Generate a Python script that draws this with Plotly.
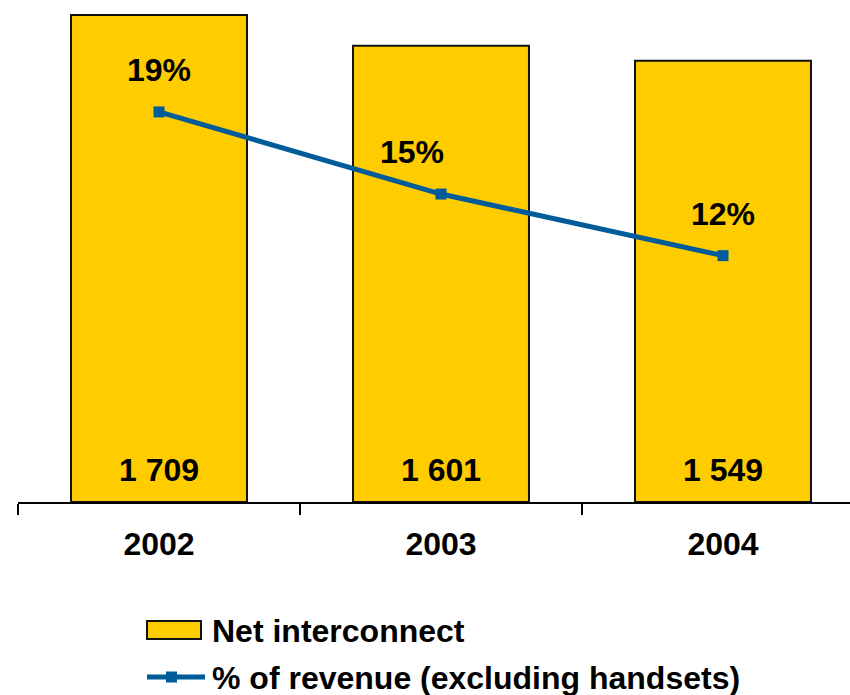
import plotly.graph_objects as go

# Data
years = ["2002", "2003", "2004"]
net_interconnect = [1709, 1601, 1549]
pct_revenue = [19, 15, 12]
bar_labels = ["1 709", "1 601", "1 549"]
pct_labels = ["19%", "15%", "12%"]
pct_label_xshift = [0, -29, 0]

bar_name = "Net interconnect"
line_name = "% of revenue (excluding handsets)"

W, H = 850, 695
ML, MR, MT, MB = 18, 0, 0, 193
PW, PH = W - ML - MR, H - MT - MB

YELLOW = "#FFCC00"
BLUE = "#005B9B"
FONT = "Liberation Sans, Arial, sans-serif"
FS = 32
BOLD = dict(family=FONT, size=FS, color="black", weight="bold")

fig = go.Figure()
fig.add_trace(go.Bar(
    x=years, y=net_interconnect, name=bar_name,
    marker=dict(color=YELLOW, line=dict(color="#111111", width=2)),
    width=0.624, showlegend=False, hoverinfo="skip",
))
fig.add_trace(go.Scatter(
    x=years, y=pct_revenue, name=line_name, yaxis="y2",
    mode="lines+markers",
    line=dict(color=BLUE, width=5),
    marker=dict(symbol="square", size=11, color=BLUE),
    showlegend=False, hoverinfo="skip",
))

annotations = []
# category positions are addressed by index so numeric-looking names stay categories
for i, t in enumerate(bar_labels):
    annotations.append(dict(
        x=i, y=0, xref="x", yref="y", text=t, showarrow=False,
        yanchor="middle", yshift=32, font=BOLD,
    ))
for i, (v, t, dx) in enumerate(zip(pct_revenue, pct_labels, pct_label_xshift)):
    annotations.append(dict(
        x=i, y=v, xref="x", yref="y2", text=t, showarrow=False,
        yanchor="middle", yshift=42, xshift=dx, font=BOLD,
    ))


def px_x(px):
    return (px - ML) / PW


def px_y(py):
    return (MT + PH - py) / PH


# Legend drawn as shapes + text
shapes = [
    dict(type="rect", xref="paper", yref="paper",
         x0=px_x(147), x1=px_x(201), y0=px_y(639), y1=px_y(621),
         fillcolor=YELLOW, line=dict(color="#111111", width=2)),
    dict(type="line", xref="paper", yref="paper",
         x0=px_x(147), x1=px_x(205), y0=px_y(677), y1=px_y(677),
         line=dict(color=BLUE, width=5)),
    dict(type="rect", xref="paper", yref="paper",
         x0=px_x(166), x1=px_x(177), y0=px_y(682.5), y1=px_y(671.5),
         fillcolor=BLUE, line=dict(color=BLUE, width=0)),
]
annotations += [
    dict(x=px_x(210), y=px_y(631), xref="paper", yref="paper", text=bar_name,
         showarrow=False, xanchor="left", yanchor="middle", font=BOLD),
    dict(x=px_x(210), y=px_y(678), xref="paper", yref="paper", text=line_name,
         showarrow=False, xanchor="left", yanchor="middle", font=BOLD),
]

fig.update_layout(
    width=W, height=H,
    margin=dict(l=ML, r=MR, t=MT, b=MB, pad=0),
    paper_bgcolor="white", plot_bgcolor="white",
    font=dict(family=FONT, size=FS, color="black"),
    bargap=0.376,
    xaxis=dict(
        type="category", range=[-0.5, -0.5 + PW / 282.0],
        showline=True, linecolor="black", linewidth=2,
        ticks="outside", tickson="boundaries", ticklen=11, tickwidth=2,
        tickcolor="black", showgrid=False, zeroline=False,
        tickfont=BOLD,
        ticklabelstandoff=13,
    ),
    yaxis=dict(range=[0, PH * 3.51], visible=False, showgrid=False),
    yaxis2=dict(range=[0, PH / 20.53], overlaying="y", side="right",
                visible=False, showgrid=False),
    shapes=shapes, annotations=annotations,
    showlegend=False,
)

fig.write_html("out.html")
